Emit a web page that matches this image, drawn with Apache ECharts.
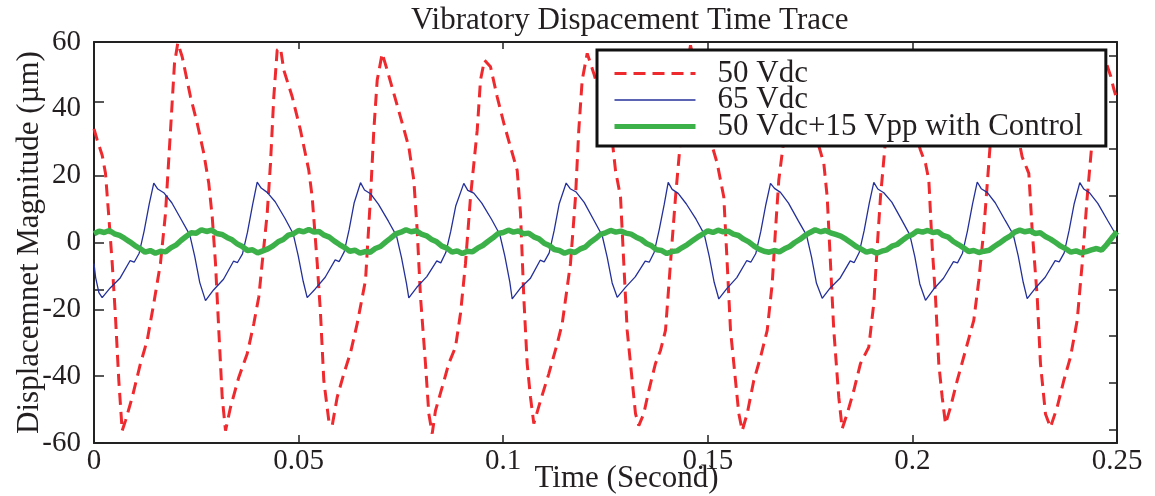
<!DOCTYPE html>
<html>
<head>
<meta charset="utf-8">
<script src="https://cdn.jsdelivr.net/npm/echarts@6/dist/echarts.min.js"></script>
<style>
html,body{margin:0;padding:0;background:#fff;}
#c{width:1155px;height:496px;}
</style>
</head>
<body>
<div id="c"></div>
<script>
// time in milliseconds, displacement in micrometres
var seriesNames = ['50 Vdc', '65 Vdc', '50 Vdc+15 Vpp with Control'];
var yLabelValues = [-60, -40, -20, 0, 20, 40, 60];

var red50Vdc = [
[0,34],[0.8,30.6],[2.0,26.1],[2.81,20.7],[3.62,7.7],[4.45,-6.2],[5.25,-22.3],[6.06,-41.3],[6.89,-56.3],[7.70,-53.3],[9.34,-46.3],[11.36,-36.2],[13.0,-29.3],[14.61,-18.2],[16.25,-6.2],[17.47,8.7],[18.70,33.6],[19.67,53.6],[20.48,59.7],[21.55,55.6],[23.58,43.6],[25.22,35.7],[26.83,26.7],[28.05,17.7],[28.89,7.7],[29.69,-6.2],[30.50,-26.3],[31.33,-46.3],[32.14,-56.3],
[33.36,-49.3],[35.39,-40.3],[37.44,-33.3],[39.05,-24.3],[40.27,-16.3],[41.10,-6.2],[42.33,8.7],[43.13,23.7],[43.94,43.6],[44.77,57.6],[45.58,58.2],[46.38,51.6],[48.44,43.6],[50.46,33.6],[52.49,21.6],[53.32,13.6],[54.55,-6.2],[55.35,-21.2],[56.16,-41.3],[57.38,-53.3],[58.21,-54.8],
[59.43,-46.3],[61.05,-39.3],[62.68,-33],[64.32,-24.3],[66.35,-11.3],[67.57,13.6],[68.38,33.6],[69.21,48.6],[70.43,56.6],[71.65,51.6],[73.27,44.6],[75.32,35.7],[76.93,28.6],[78.15,18.7],[78.98,3.7],[79.79,-16.3],[81.01,-36.3],[81.82,-51.2],[82.65,-57.2],
[83.45,-50.3],[85.09,-43.3],[86.71,-36.2],[88.34,-31.3],[89.57,-21.2],[90.79,-6.2],[92.01,13.6],[93.65,33.6],[94.45,48.6],[95.43,54.6],[96.90,52.6],[98.53,43.6],[100.15,35.7],[101.78,28.6],[103.42,21.6],[104.23,8.7],[105.03,-16.3],[105.86,-36.3],[106.67,-46.3],[107.48,-54.2],
[109.12,-47.3],[111.14,-39.3],[113.20,-30.3],[114.42,-24.3],[116.45,-6.2],[117.67,13.6],[118.47,33.6],[119.30,48.6],[120.53,56.6],[122.14,50.6],[123.78,43.6],[125.24,36],[126.64,30.6],[127.44,21.6],[128.67,13.6],[129.47,-6.2],[130.30,-26.3],[131.52,-41.3],[132.33,-51.2],[133.14,-54.8],
[134.36,-51.2],[135.58,-44.3],[137.22,-36.2],[138.44,-32.3],[139.66,-26.3],[140.88,-6.2],[142.11,13.6],[143.33,30.6],[144.55,50],[145.77,59],[147.48,50],[149.19,38],[150.66,30.6],[152.30,23.7],[153.91,13.6],[154.74,-6.2],[155.55,-26.3],[156.77,-41.3],[157.58,-51.2],[158.41,-56.3],
[159.63,-51.2],[161.24,-41.3],[162.88,-34.3],[164.52,-26.3],[165.74,-12.3],[166.54,3.7],[167.35,18.7],[168.57,30.6],[169.72,48],[171.19,56.5],[172.90,49],[174.85,38],[176.73,30.6],[178.35,23.7],[179.18,13.6],[179.98,-6.2],[180.79,-26.3],[182.01,-46.3],[182.84,-55.7],
[184.07,-51.2],[185.68,-44.3],[187.32,-36.2],[189.34,-31.3],[190.57,-18.2],[191.40,-1.3],[192.20,13.6],[193.43,30.6],[194.65,48],[196.11,56.5],[197.82,49],[199.78,37],[201.98,27.6],[203.20,23.7],[204.01,18.7],[204.84,-1.3],[205.64,-16.3],[206.45,-36.3],[207.28,-46.3],[208.09,-54.3],
[209.31,-49.3],[210.95,-41.3],[212.98,-32.3],[215.00,-23.3],[216.23,-11.3],[217.45,3.7],[218.67,23.7],[219.89,43.6],[221.11,57.6],[222.51,52],[224.46,40],[226.83,25.6],[228.45,20.7],[229.27,3.7],[230.50,-16.3],[231.30,-36.3],[232.52,-51.3],[233.74,-55.3],
[235.38,-49.3],[237.00,-41.3],[238.63,-34.3],[240.27,-23.3],[241.50,-6.2],[242.72,13.6],[243.94,30.6],[245.16,48.6],[246.21,55.1],[247.43,53.5],[248.41,50],[249.21,46],[250,42.6]
];

var blue65Vdc = [
[0,-6.3],[0.4,-10.5],[1.2,-15.0],
[2.00,-16.5],[3.96,-13.6],[6.40,-10.6],[8.84,-5.4],[9.82,-5.9],[11.04,-3.2],[12.26,3.5],[13.49,11.5],[14.61,17.8],[15.59,16.0],[17.05,14.9],[19.01,11.9],[21.45,6.6],[23.41,2.3],[24.63,-4.2],[25.85,-12.0],
[27.25,-17.4],[29.21,-14.2],[31.65,-11.0],[34.09,-5.6],[35.07,-6.0],[36.29,-3.4],[37.51,3.1],[38.74,11.2],[39.88,18.1],[40.86,16.3],[42.32,15.0],[44.28,12.2],[46.72,7.1],[48.68,2.6],[49.90,-3.9],[51.12,-11.6],
[52.10,-16.5],[54.06,-13.9],[56.50,-10.4],[58.94,-5.2],[59.92,-5.7],[61.14,-2.8],[62.36,3.9],[63.59,11.9],[65.13,17.9],[66.11,15.7],[67.57,14.6],[69.53,11.4],[71.97,6.3],[73.93,2.0],[75.15,-4.5],[76.37,-12.3],
[76.93,-16.6],[78.89,-13.4],[81.33,-10.2],[83.77,-5.5],[84.75,-6.1],[85.97,-3.0],[87.19,3.4],[88.42,11.0],[90.37,17.7],[91.35,15.6],[92.81,14.8],[94.77,11.8],[97.21,6.8],[99.17,2.4],[100.39,-4.0],[101.61,-11.8],
[102.20,-16.9],[104.16,-13.7],[106.60,-10.8],[109.04,-5.3],[110.02,-5.8],[111.24,-3.1],[112.46,3.6],[113.69,11.6],[115.39,17.8],[116.37,16.1],[117.83,15.1],[119.79,12.0],[122.23,6.5],[124.19,2.1],[125.41,-4.4],[126.63,-12.1],
[127.86,-16.4],[129.82,-13.5],[132.26,-10.3],[134.70,-5.6],[135.68,-5.9],[136.90,-2.9],[138.12,3.8],[139.35,11.4],[140.32,18.0],[141.30,15.9],[142.76,14.7],[144.72,11.6],[147.16,6.9],[149.12,2.5],[150.34,-4.1],[151.56,-11.9],
[152.69,-16.9],[154.65,-13.8],[157.09,-10.5],[159.53,-5.4],[160.51,-5.9],[161.73,-3.3],[162.95,3.3],[164.18,11.3],[165.32,17.7],[166.30,16.2],[167.76,15.0],[169.72,11.8],[172.16,6.4],[174.12,2.2],[175.34,-4.3],[176.56,-12.2],
[177.96,-16.7],[179.92,-13.6],[182.36,-10.6],[184.80,-5.5],[185.78,-6.0],[187.00,-3.0],[188.22,3.6],[189.45,11.7],[190.57,18.0],[191.55,16.0],[193.01,14.9],[194.97,12.1],[197.41,6.7],[199.37,2.3],[200.59,-4.2],[201.81,-12.4],
[203.20,-17.3],[205.16,-14.0],[207.60,-10.7],[210.04,-5.7],[211.02,-6.1],[212.24,-3.2],[213.46,3.5],[214.69,11.5],[215.84,18.1],[216.82,16.1],[218.28,15.0],[220.24,11.9],[222.68,6.6],[224.64,2.4],[225.86,-4.0],[227.08,-11.9],
[228.05,-16.8],[230.01,-13.7],[232.45,-10.4],[234.89,-5.4],[235.87,-5.8],[237.09,-3.1],[238.31,3.7],[239.54,11.6],[240.91,17.9],[241.89,16.0],[243.35,14.8],[245.31,11.7],[247.75,6.5],[250,1.8]
];

var greenControl = [
[0,2.6],[1.25,3.4],[2.5,3.0],[3.75,3.6],[5,2.6],[6.25,2.1],[7.5,1.2],[8.75,0.2],[10,-0.9],[11.25,-1.8],[12.5,-2.9],[13.75,-2.4],[15,-3.2],[16.25,-2.6],[17.5,-2.8],[18.75,-1.6],[20,-0.8],[21.25,0.6],[22.5,1.8],[23.75,2.9],
[25,2.8],[26.25,3.8],[27.5,3.3],[28.75,3.7],[30,2.7],[31.25,2.4],[32.5,1.5],[33.75,0.8],[35,-0.4],[36.25,-1.2],[37.5,-2.4],[38.75,-2.2],[40,-3.1],[41.25,-2.5],[42.5,-1.9],[43.75,-1.0],[45,0.2],[46.25,0.9],[47.5,2.2],[48.75,2.6],
[50,3.6],[51.25,3.2],[52.5,3.9],[53.75,3.1],[55,3.3],[56.25,2.2],[57.5,1.6],[58.75,0.4],[60,-0.6],[61.25,-1.5],[62.5,-2.6],[63.75,-2.3],[65,-3.2],[66.25,-2.7],[67.5,-2.9],[68.75,-1.8],[70,-1.2],[71.25,0.1],[72.5,1.3],[73.75,2.6],
[75,3.1],[76.25,3.8],[77.5,3.2],[78.75,3.5],[80,2.5],[81.25,2.0],[82.5,0.9],[83.75,0.2],[85,-1.1],[86.25,-1.7],[87.5,-2.9],[88.75,-2.5],[90,-3.3],[91.25,-2.6],[92.5,-2.8],[93.75,-1.7],[95,-0.9],[96.25,0.3],[97.5,1.4],[98.75,2.7],
[100,3.0],[101.25,3.7],[102.5,3.1],[103.75,3.5],[105,2.6],[106.25,2.8],[107.5,1.7],[108.75,1.1],[110,-0.2],[111.25,-0.9],[112.5,-2.1],[113.75,-2.4],[115,-3.2],[116.25,-2.6],[117.5,-3.0],[118.75,-2.0],[120,-1.4],[121.25,0.0],[122.5,1.1],[123.75,2.4],
[125,2.9],[126.25,3.6],[127.5,3.1],[128.75,3.4],[130,2.8],[131.25,2.5],[132.5,1.6],[133.75,0.9],[135,-0.3],[136.25,-1.0],[137.5,-2.2],[138.75,-2.4],[140,-3.3],[141.25,-2.7],[142.5,-2.5],[143.75,-1.5],[145,-0.6],[146.25,0.5],[147.5,1.6],[148.75,2.5],
[150,3.5],[151.25,3.0],[152.5,3.7],[153.75,3.2],[155,3.4],[156.25,2.5],[157.5,2.1],[158.75,1.0],[160,0.2],[161.25,-1.0],[162.5,-2.0],[163.75,-2.6],[165,-2.9],[166.25,-2.4],[167.5,-2.8],[168.75,-1.9],[170,-1.2],[171.25,0.0],[172.5,0.9],[173.75,2.1],
[175,3.0],[176.25,3.8],[177.5,3.2],[178.75,3.6],[180,2.9],[181.25,2.4],[182.5,1.9],[183.75,1.0],[185,-0.1],[186.25,-1.2],[187.5,-2.0],[188.75,-2.9],[190,-2.5],[191.25,-3.2],[192.5,-2.6],[193.75,-2.2],[195,-1.1],[196.25,-0.6],[197.5,0.6],[198.75,1.7],
[200,2.4],[201.25,3.5],[202.5,3.1],[203.75,3.6],[205,3.0],[206.25,3.2],[207.5,2.1],[208.75,1.6],[210,0.3],[211.25,-0.6],[212.5,-1.6],[213.75,-2.7],[215,-2.4],[216.25,-3.0],[217.5,-2.6],[218.75,-2.3],[220,-1.2],[221.25,-0.2],[222.5,0.9],[223.75,1.8],
[225,3.1],[226.25,3.7],[227.5,3.2],[228.75,3.5],[230,2.7],[231.25,2.9],[232.5,1.8],[233.75,1.0],[235,0.0],[236.25,-1.1],[237.5,-1.9],[238.75,-2.9],[240,-2.5],[241.25,-3.1],[242.5,-2.7],[243.75,-2.2],[245,-1.8],[246.25,-2.3],[247.5,-0.6],[248.75,1.4],[250,3.2]
];

var FONT = 'Liberation Serif';
var TXT = '#231f20';
var RED = '#ee2a2e', BLUE = '#24309a', GREEN = '#3cb14a';

var chart = echarts.init(document.getElementById('c'), null, {renderer: 'canvas'});
chart.setOption({
  animation: false,
  backgroundColor: '#fff',
  textStyle: {fontFamily: FONT},
  title: {
    text: 'Vibratory Dispacement Time Trace',
    left: 411, top: 5, padding: 0,
    textStyle: {fontFamily: FONT, fontSize: 31, fontWeight: 'normal', color: TXT}
  },
  legend: {
    data: [
      {name: seriesNames[0], lineStyle: {width: 3, type: [12, 7], color: RED}},
      {name: seriesNames[1], lineStyle: {width: 1.5, color: BLUE}},
      {name: seriesNames[2], lineStyle: {width: 5, color: GREEN}}
    ],
    orient: 'vertical',
    left: 597, top: 50,
    padding: [8, 23, 4, 15],
    itemWidth: 81, itemHeight: 14, itemGap: -4.5,
    backgroundColor: '#fff',
    borderColor: '#111', borderWidth: 3,
    itemStyle: {opacity: 0},
    textStyle: {fontFamily: FONT, fontSize: 31, color: TXT, lineHeight: 26, padding: [0, 0, 0, 17]}
  },
  grid: {left: 94, right: 38, top: 42, bottom: 53, containLabel: false, outerBoundsMode: 'none'},
  xAxis: [{
    type: 'value', min: 0, max: 250, interval: 50, position: 'bottom',
    name: 'Time (Second)', nameLocation: 'middle', nameGap: 20, nameMoveOverlap: false,
    nameTextStyle: {fontFamily: FONT, fontSize: 31, color: TXT, padding: [0, 0, 0, 42]},
    axisLine: {show: true, onZero: false, lineStyle: {color: '#222', width: 2}},
    axisTick: {show: true, inside: true, length: 8, lineStyle: {color: '#222', width: 1.5}},
    axisLabel: {fontFamily: FONT, fontSize: 29, color: TXT, margin: 4,
      formatter: function (v) { return String(+(v / 1000).toFixed(3)); }},
    splitLine: {show: false}
  }, {
    type: 'value', min: 0, max: 250, interval: 50, position: 'top',
    axisLine: {show: true, onZero: false, lineStyle: {color: '#222', width: 2}},
    axisTick: {show: true, inside: true, length: 7, lineStyle: {color: '#222', width: 1.5}},
    axisLabel: {show: false}, splitLine: {show: false}
  }],
  yAxis: [{
    type: 'value', min: -60, max: 60, interval: 20, position: 'left',
    name: 'Displacemnet Magnitude (\u00b5m)', nameLocation: 'middle', nameGap: 49, nameMoveOverlap: false,
    nameTextStyle: {fontFamily: FONT, fontSize: 31, color: TXT},
    axisLine: {show: true, onZero: false, lineStyle: {color: '#222', width: 2}},
    axisTick: {show: true, inside: true, length: 10, lineStyle: {color: '#222', width: 1.5},
      customValues: [-60, -40, -20, -14, 0, 20, 42]},
    axisLabel: {fontFamily: FONT, fontSize: 29, color: TXT, margin: 13, customValues: yLabelValues},
    splitLine: {show: false}
  }, {
    type: 'value', min: -60, max: 60, interval: 20, position: 'right',
    axisLine: {show: true, onZero: false, lineStyle: {color: '#222', width: 2}},
    axisTick: {show: true, inside: true, length: 8, lineStyle: {color: '#222', width: 1.5},
      customValues: [-56, -42, -28, -14, 0, 14, 28, 42, 56]},
    axisLabel: {show: false}, splitLine: {show: false}
  }],
  series: [{
    name: seriesNames[0], type: 'line', data: red50Vdc, symbol: 'none',
    lineStyle: {color: RED, width: 3, type: [12, 7]}, itemStyle: {color: RED}
  }, {
    name: seriesNames[1], type: 'line', data: blue65Vdc, symbol: 'none',
    lineStyle: {color: BLUE, width: 1.3}, itemStyle: {color: BLUE}
  }, {
    name: seriesNames[2], type: 'line', data: greenControl, symbol: 'none',
    lineStyle: {color: GREEN, width: 5.5}, itemStyle: {color: GREEN}
  }]
});
</script>
</body>
</html>
